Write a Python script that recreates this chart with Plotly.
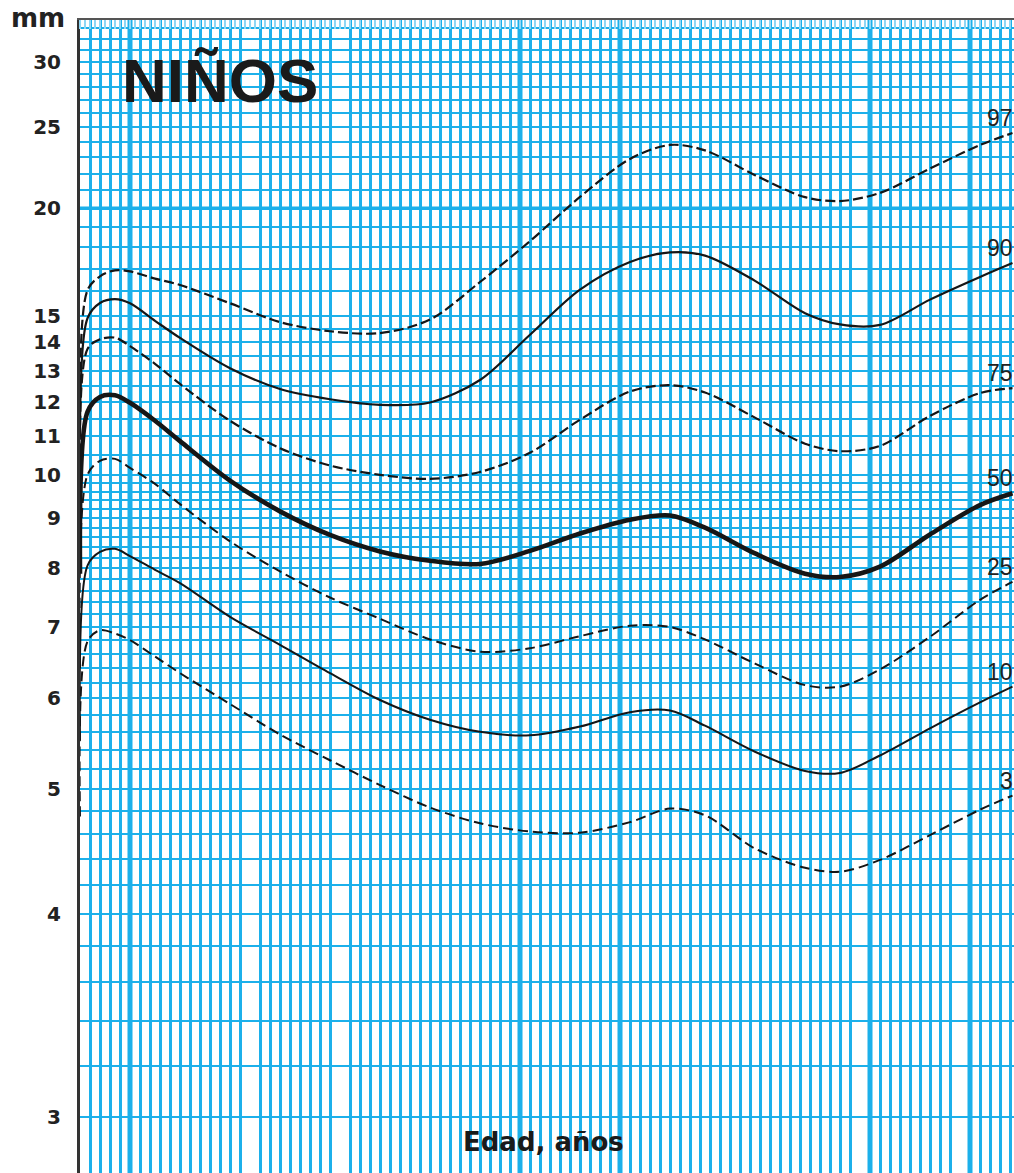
import numpy as np
import plotly.graph_objects as go

# ---------------- data ----------------
ages = [0, 0.15, 0.4, 0.7, 1.0, 1.5, 2, 3, 4, 5, 6, 7, 8, 9, 10, 11, 11.8,
        12.5, 13.5, 14.5, 15.2, 16, 17, 18, 18.65]

p97 = [12.5, 16.05, 16.65, 16.92, 16.87, 16.55, 16.27, 15.5, 14.75, 14.4, 14.33,
       14.85, 16.4, 18.3, 20.63, 22.9, 23.8, 23.45, 21.9, 20.62, 20.4, 20.86,
       22.3, 23.8, 24.6]
p90 = [11.0, 14.9, 15.51, 15.67, 15.5, 14.8, 14.15, 13.08, 12.4, 12.08, 11.91,
       11.98, 12.69, 14.27, 16.07, 17.3, 17.75, 17.6, 16.45, 15.1, 14.66, 14.64,
       15.65, 16.62, 17.25]
p75 = [9.5, 13.75, 14.1, 14.16, 13.85, 13.23, 12.56, 11.44, 10.68, 10.23, 10.0,
       9.9, 10.07, 10.56, 11.47, 12.32, 12.52, 12.29, 11.53, 10.8, 10.6, 10.74,
       11.58, 12.27, 12.43]
p50 = [7.9, 11.7, 12.15, 12.2, 11.97, 11.44, 10.87, 9.86, 9.15, 8.65, 8.32,
       8.14, 8.08, 8.33, 8.68, 8.97, 9.06, 8.8, 8.28, 7.9, 7.84, 8.03, 8.66,
       9.29, 9.56]
p25 = [6.4, 10.0, 10.35, 10.4, 10.17, 9.78, 9.31, 8.52, 7.94, 7.48, 7.13,
       6.81, 6.63, 6.68, 6.86, 7.02, 7.0, 6.81, 6.46, 6.17, 6.15, 6.38, 6.85,
       7.44, 7.75]
p10 = [5.5, 8.05, 8.31, 8.37, 8.23, 7.97, 7.73, 7.16, 6.73, 6.33, 5.98, 5.74,
       5.6, 5.56, 5.66, 5.83, 5.85, 5.67, 5.38, 5.18, 5.16, 5.34, 5.64, 5.95,
       6.15]
p3 = [4.75, 6.78, 6.95, 6.9, 6.8, 6.56, 6.33, 5.93, 5.57, 5.29, 5.04, 4.83,
      4.69, 4.62, 4.61, 4.7, 4.82, 4.76, 4.48, 4.33, 4.3, 4.39, 4.59, 4.81, 4.94]

series_names = ["97", "90", "75", "50", "25", "10", "3"]
series_values = [p97, p90, p75, p50, p25, p10, p3]

y_tick_values = [3, 4, 5, 6, 7, 8, 9, 10, 11, 12, 13, 14, 15, 20, 25, 30]
y_tick_labels = [str(v) for v in y_tick_values]

# ---------------- scale ----------------
SHIFT = 1.8  # chart uses a log(mm - 1.8) scale


def tr(v):
    return np.log10(np.asarray(v, dtype=float) - SHIFT)


# horizontal minor grid
y_minor = ([round(v, 1) for v in np.arange(3.2, 10.0, 0.2) if abs(v - round(v)) > 1e-6]
           + [10.5, 11.5, 12.5, 13.5, 14.5, 16, 17, 18, 19]
           + [21, 22, 23, 24, 26, 27, 28, 29, 31, 32, 33])

# vertical grid (every 0.2 year) with a few gaps, and some heavier lines
x_max = 18.68
grid_gaps = [3.4, 5.2, 15.6, 17.6]
grid_bold = [1.0, 8.8, 10.8, 15.8, 17.8]
x_grid = [round(v, 1) for v in np.arange(0.2, x_max, 0.2)
          if all(abs(v - g) > 1e-6 for g in grid_gaps)]

BLUE = "#1cb0ea"
INK = "#161616"

styles = {
    "97": dict(width=2.2, dash="10px,4px"),
    "90": dict(width=2.2, dash="solid"),
    "75": dict(width=2.2, dash="10px,4px"),
    "50": dict(width=4.6, dash="solid"),
    "25": dict(width=2.0, dash="10px,5px"),
    "10": dict(width=2.0, dash="solid"),
    "3": dict(width=2.0, dash="10px,5px"),
}

fig = go.Figure()
for name, vals in zip(series_names, series_values):
    st = styles[name]
    fig.add_trace(go.Scatter(
        x=ages, y=tr(vals), mode="lines", name=name,
        line=dict(color=INK, width=st["width"], dash=st["dash"],
                  shape="spline", smoothing=0.9),
        hoverinfo="skip", showlegend=False,
    ))
    fig.add_annotation(x=ages[-1], y=float(tr(vals[-1])), xref="x", yref="y",
                       text=name, showarrow=False, xanchor="right",
                       yanchor="middle", yshift=15, xshift=2,
                       font=dict(family="Liberation Sans, Arial", size=23,
                                 color="#222"))

shapes = []
for g in grid_bold:
    shapes.append(dict(type="line", xref="x", yref="paper", x0=g, x1=g,
                       y0=0, y1=1, line=dict(color=BLUE, width=5),
                       layer="between"))
shapes.append(dict(type="line", xref="paper", yref="y", x0=0, x1=1,
                   y0=float(tr(20)), y1=float(tr(20)),
                   line=dict(color=BLUE, width=3.5), layer="between"))

y_top = float(tr(30)) + 42 / 769.5
y_bot = float(tr(30)) - (1173 - 62) / 769.5

fig.update_layout(
    width=1014, height=1173,
    margin=dict(l=80, r=0, t=20, b=0),
    paper_bgcolor="white", plot_bgcolor="white",
    hovermode=False, showlegend=False,
    shapes=shapes,
    xaxis=dict(
        range=[0, x_max], side="top", showline=True, linecolor="#555",
        linewidth=2, showticklabels=False, ticks="",
        tickmode="array", tickvals=x_grid,
        showgrid=True, gridcolor=BLUE, gridwidth=3, zeroline=False,
        minor=dict(dtick=0.1, tick0=0, ticks="inside", ticklen=9,
                   tickwidth=2, tickcolor="#8fd6f4", showgrid=False),
    ),
    yaxis=dict(
        range=[y_bot, y_top], showline=True, linecolor="#333", linewidth=3,
        tickmode="array", tickvals=list(tr(y_tick_values)),
        ticktext=y_tick_labels, ticks="", ticklabelstandoff=12,
        tickfont=dict(family="DejaVu Sans", size=20, color="#222",
                      weight="bold"),
        showgrid=True, gridcolor=BLUE, gridwidth=2, zeroline=False,
        minor=dict(tickmode="array", tickvals=list(tr(y_minor)),
                   showgrid=True, gridcolor=BLUE, gridwidth=2, ticks=""),
    ),
)

fig.add_annotation(xref="paper", yref="paper", x=(67 - 80) / 934, y=1.0017,
                   text="mm", showarrow=False, xanchor="right",
                   yanchor="middle",
                   font=dict(family="DejaVu Sans", size=26, color="#222",
                             weight="bold"))
fig.add_annotation(xref="paper", yref="paper", x=(120 - 80) / 934,
                   y=1 - 60 / 1153, text="NIÑOS", showarrow=False,
                   xanchor="left", yanchor="middle",
                   font=dict(family="Liberation Sans, Arial", size=62,
                             color="#1a1a1a", weight="bold"))
fig.add_annotation(xref="paper", yref="paper", x=(543 - 80) / 934,
                   y=1 - (1142 - 20) / 1153, text="Edad, años",
                   showarrow=False, xanchor="center", yanchor="middle",
                   font=dict(family="DejaVu Sans", size=26, color="#1a1a1a",
                             weight="bold"))

fig.write_html("out.html")
